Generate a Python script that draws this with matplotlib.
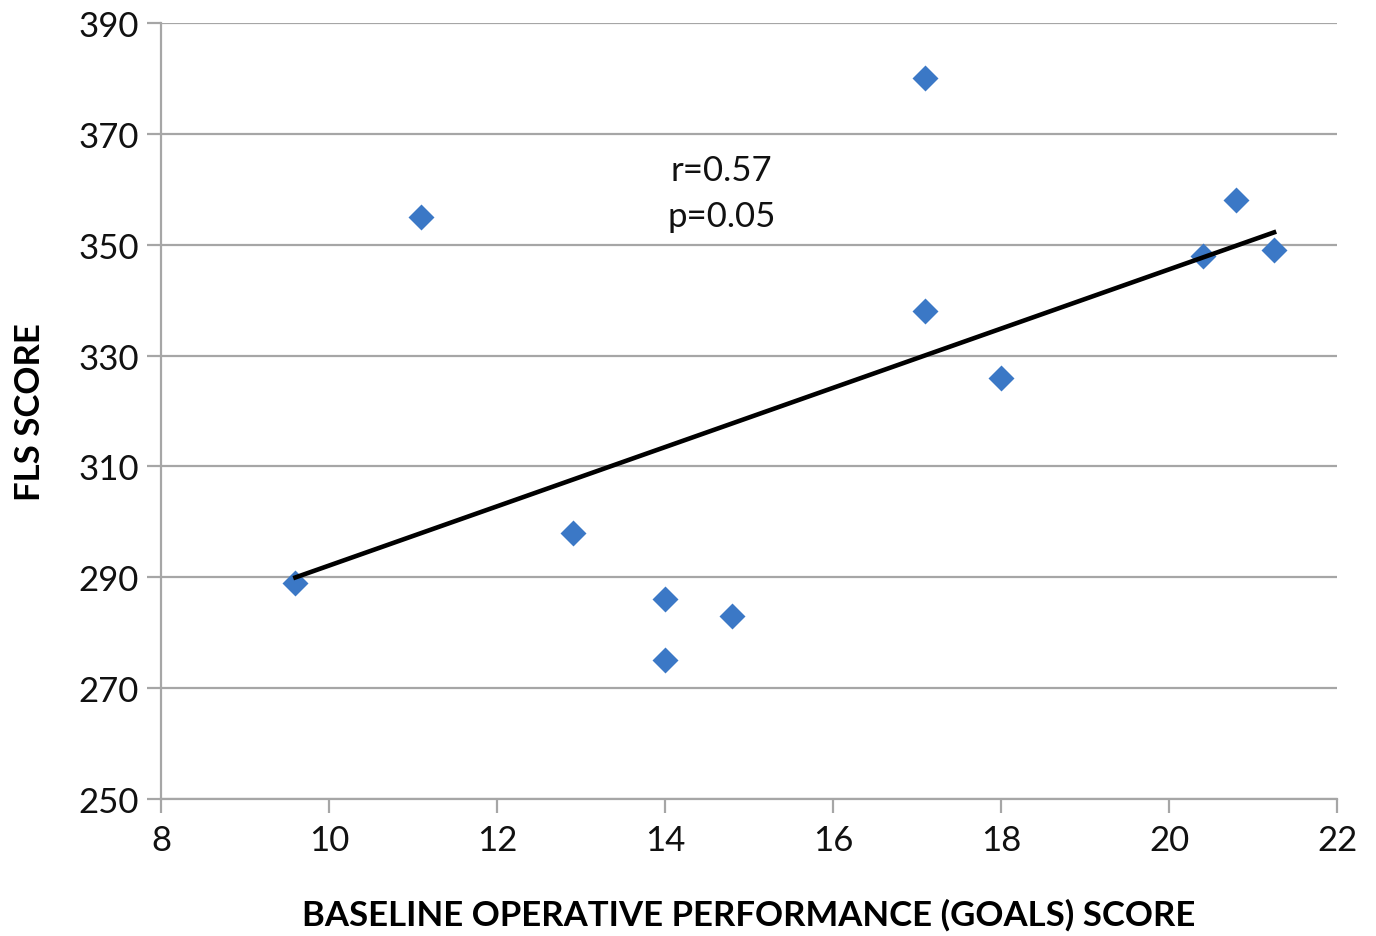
import numpy as np
import matplotlib
matplotlib.use("Agg")
import matplotlib.pyplot as plt

plt.rcParams['font.family'] = ['Lato', 'DejaVu Sans']

goals = [9.6, 11.1, 12.9, 14.0, 14.0, 14.8, 17.1, 17.1, 18.0, 20.4, 20.8, 21.25]
fls = [289, 355, 298, 286, 275, 283, 380, 338, 326, 348, 358, 349]
x_ticks = [8, 10, 12, 14, 16, 18, 20, 22]
y_ticks = [250, 270, 290, 310, 330, 350, 370, 390]
annotation = "r=0.57\np=0.05"

fig = plt.figure(figsize=(13.76, 9.37), dpi=100)
ax = fig.add_axes([0.117, 0.1462, 0.8547, 0.8282])

gray = '#a6a6a6'
ax.set_xlim(8, 22)
ax.set_ylim(250, 390)
ax.set_xticks(x_ticks)
ax.set_yticks(y_ticks)
ax.grid(axis='y', color=gray, linewidth=1.6)
ax.set_axisbelow(True)
for s in ['top', 'right']:
    ax.spines[s].set_visible(False)
for s in ['left', 'bottom']:
    ax.spines[s].set_color(gray)
    ax.spines[s].set_linewidth(1.6)
ax.tick_params(axis='both', colors=gray, length=10, width=1.6, labelcolor='#111111', labelsize=25)
ax.tick_params(axis='x', pad=8)
ax.tick_params(axis='y', pad=6)

ax.scatter(goals, fls, marker='D', s=175, color='#3b78c6', zorder=3, linewidths=0)

xa = np.array(goals)
slope, intercept = np.polyfit(xa, np.array(fls), 1)
xl = np.array([xa.min(), xa.max()])
ax.plot(xl, slope * xl + intercept, color='black', linewidth=3.3, zorder=4)

ax.text(14.67, 359.3, annotation, ha='center', va='center', fontsize=25, linespacing=1.55, color='#111111')

ax.set_xlabel("BASELINE OPERATIVE PERFORMANCE (GOALS) SCORE", fontsize=25, fontweight='bold', labelpad=30)
ax.set_ylabel("FLS SCORE", fontsize=25, fontweight='bold', labelpad=23)

fig.savefig("out.png", dpi=100)
